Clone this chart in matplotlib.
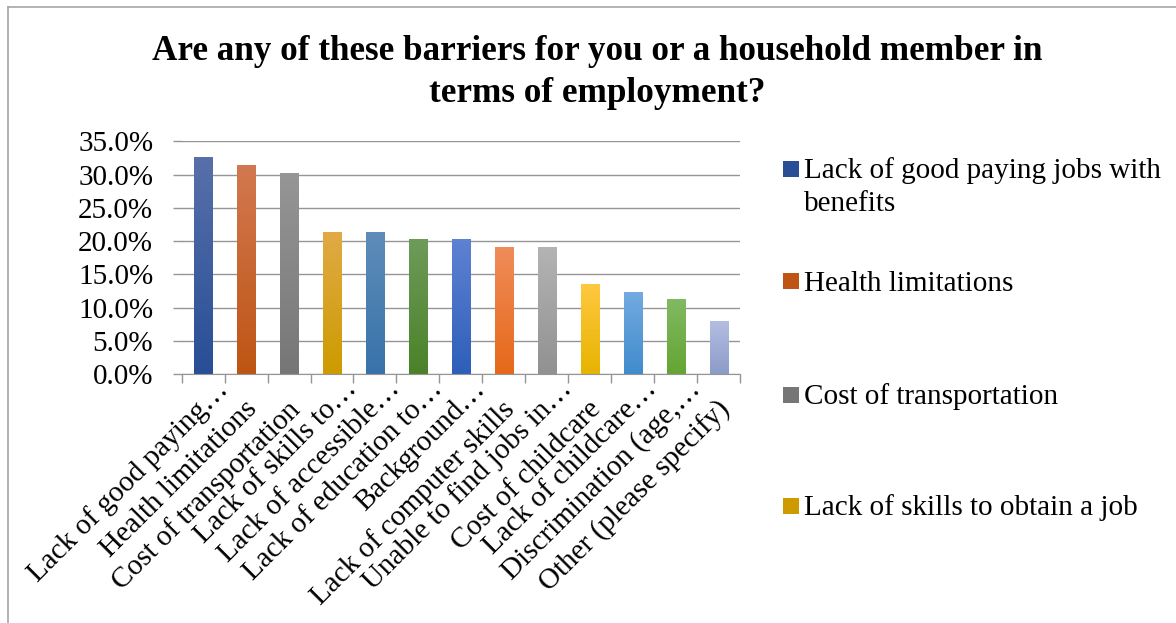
import numpy as np
import matplotlib
matplotlib.use("Agg")
import matplotlib.pyplot as plt
import matplotlib.transforms as mtransforms
from matplotlib.colors import to_rgb
from matplotlib.patches import Rectangle
from matplotlib.lines import Line2D

plt.rcParams['font.family'] = ['Liberation Serif', 'DejaVu Serif']

# survey results, share of respondents
categories = [
    "Lack of good paying\u2026", "Health limitations", "Cost of transportation",
    "Lack of skills to\u2026", "Lack of accessible\u2026", "Lack of education to\u2026",
    "Background\u2026", "Lack of computer skills", "Unable to find jobs in\u2026",
    "Cost of childcare", "Lack of childcare\u2026", "Discrimination (age,\u2026",
    "Other (please specify)",
]
values = [0.326, 0.314, 0.303, 0.214, 0.214, 0.203, 0.203,
          0.191, 0.191, 0.136, 0.124, 0.113, 0.080]
legend_labels = [
    "Lack of good paying jobs with\nbenefits",
    "Health limitations",
    "Cost of transportation",
    "Lack of skills to obtain a job",
]
title = "Are any of these barriers for you or a household member in\nterms of employment?"

# (top, bottom) colours of each bar's vertical gradient
top_colors = ["#5770AA", "#D27850", "#969696", "#E1AA46", "#5F8CB9", "#6E9B5A",
              "#5F82D2", "#F08C5A", "#B4B4B4", "#FFC841", "#73AAE1", "#82B964",
              "#B4BEE1"]
bottom_colors = ["#284E96", "#BE5514", "#767676", "#CD9B00", "#3773AA", "#4B8228",
                 "#2D5FB9", "#E66919", "#919191", "#E6B400", "#418CCD", "#64A532",
                 "#8C9BC8"]

W, H = 1176, 623
FS = 21
fig = plt.figure(figsize=(W / 100, H / 100), dpi=100)
ax = fig.add_axes([181.7 / W, 1 - 374.3 / H, (740 - 181.7) / W, (374.3 - 141.3) / H])

grid_c = "#959595"
x = np.arange(len(categories))
bars = ax.bar(x, values, width=0.42, color=bottom_colors, zorder=3)

# gradient fill clipped to each bar
for bar, c_top, c_bot in zip(bars, top_colors, bottom_colors):
    t = np.linspace(0, 1, 64)[:, None]
    rgb = (1 - t) * np.array(to_rgb(c_bot)) + t * np.array(to_rgb(c_top))
    x0, y0 = bar.get_x(), bar.get_y()
    im = ax.imshow(rgb[:, None, :], origin="lower", aspect="auto", zorder=4,
                   extent=[x0, x0 + bar.get_width(), y0, y0 + bar.get_height()])
    im.set_clip_path(bar)

ax.set_xlim(-0.5, len(categories) - 0.5)
ax.set_ylim(0, 0.35)
ax.set_yticks(np.arange(0, 0.351, 0.05))
ax.set_yticklabels([f"{v * 100:.1f}%" for v in np.arange(0, 0.351, 0.05)])
ax.yaxis.grid(True, color=grid_c, lw=1.0, zorder=0)
ax.set_axisbelow(True)

for s in ["top", "right", "left"]:
    ax.spines[s].set_visible(False)
ax.spines["bottom"].set_color(grid_c)
ax.spines["bottom"].set_zorder(5)

ax.tick_params(axis="y", direction="out", length=6.5, width=1.0, color=grid_c,
               pad=14, labelsize=FS)
ax.set_xticks(x)
ax.set_xticks(np.arange(-0.5, len(categories), 1.0), minor=True)
ax.tick_params(axis="x", which="major", length=0, pad=4)
ax.tick_params(axis="x", which="minor", direction="out", length=6.5, width=1.0,
               color=grid_c)
ax.set_xticklabels(categories, rotation=45, ha="right", va="top",
                   rotation_mode="anchor", fontsize=FS)
# truncated labels hang their ellipsis past the tick; full ones sit lower
for lbl in ax.get_xticklabels():
    if lbl.get_text().endswith("\u2026"):
        dx, dy = 11.5, 4
    else:
        dx, dy = -2.5, -16
    off = mtransforms.ScaledTranslation(dx / 100, dy / 100, fig.dpi_scale_trans)
    lbl.set_transform(lbl.get_transform() + off)

# title, one line at a time
for i, line in enumerate(title.split("\n")):
    fig.text(597 / W, 1 - (60 + 42 * i) / H, line, ha="center", va="baseline",
             fontsize=25.3, fontweight="bold")

# legend for the first four categories
leg_base = [178, 290.7, 404, 515]
for lbl, col, yb in zip(legend_labels, bottom_colors, leg_base):
    fig.add_artist(Rectangle((783 / W, 1 - (yb - 1.3) / H), 15.5 / W, 16 / H,
                             transform=fig.transFigure, color=col, lw=0))
    for j, line in enumerate(lbl.split("\n")):
        fig.text(804 / W, 1 - (yb + 32.7 * j) / H, line, ha="left",
                 va="baseline", fontsize=FS)

# frame lines along the left and top edges
fig.add_artist(Line2D([8 / W, 8 / W], [0, 1 - 7 / H], transform=fig.transFigure,
                      color="#A6A6A6", lw=1.2))
fig.add_artist(Line2D([8 / W, 1], [1 - 7 / H, 1 - 7 / H], transform=fig.transFigure,
                      color="#A6A6A6", lw=1.2))

fig.savefig("out.png", dpi=100, facecolor="white")
